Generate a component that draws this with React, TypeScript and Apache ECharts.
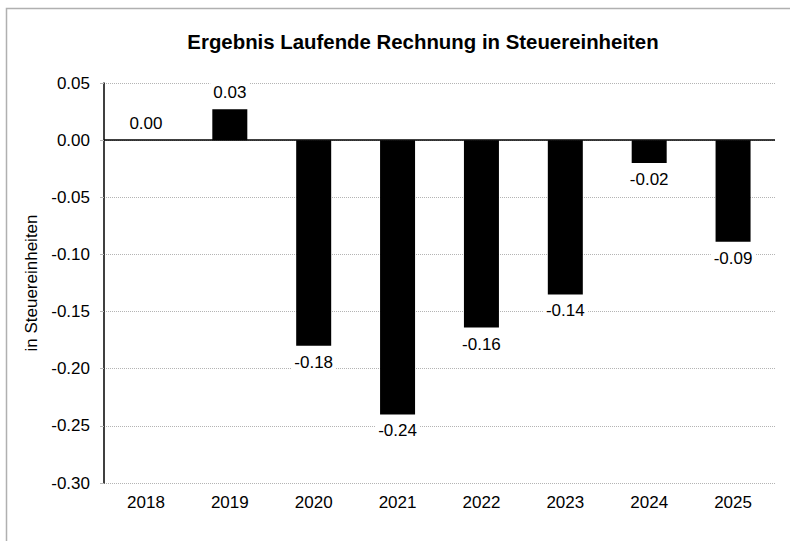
import React, { useEffect, useRef } from "react";
import * as echarts from "echarts";

const categories = ["2018", "2019", "2020", "2021", "2022", "2023", "2024", "2025"];
const values = [0.0, 0.027, -0.18, -0.24, -0.164, -0.135, -0.02, -0.089];
const chartTitle = "Ergebnis Laufende Rechnung in Steuereinheiten";
const yAxisTitle = "in Steuereinheiten";

const FONT = "'Liberation Sans', Arial, sans-serif";

export default function App() {
  const ref = useRef<HTMLDivElement>(null);
  useEffect(() => {
    if (!ref.current) return;
    const chart = echarts.init(ref.current, null, { renderer: "svg" });
    chart.setOption({
      animation: false,
      backgroundColor: "#ffffff",
      textStyle: { fontFamily: FONT },
      graphic: [
        {
          type: "rect",
          shape: { x: 6.5, y: 8.5, width: 1000, height: 1000 },
          style: { fill: "none", stroke: "#b0b0b0", lineWidth: 1.5 },
          silent: true,
          z: -1,
        },
        {
          type: "text",
          x: 423,
          y: 42,
          style: {
            text: chartTitle,
            font: `bold 20.4px ${FONT}`,
            fill: "#000",
            textAlign: "center",
            textVerticalAlign: "middle",
          },
        },
      ],
      grid: { left: 104, right: 15, top: 83, bottom: 58, containLabel: false },
      xAxis: {
        type: "category",
        data: categories,
        axisLine: { show: false },
        axisTick: { show: false },
        axisLabel: { color: "#000", fontSize: 17, fontFamily: FONT, margin: 11 },
        splitLine: { show: false },
      },
      yAxis: {
        type: "value",
        min: -0.3,
        max: 0.05,
        interval: 0.05,
        name: yAxisTitle,
        nameLocation: "middle",
        nameRotate: 90,
        nameGap: 64,
        nameTextStyle: { color: "#000", fontSize: 17, fontFamily: FONT },
        axisLine: { show: true, lineStyle: { color: "#000", width: 1.5 } },
        axisTick: { show: true, length: 4, lineStyle: { color: "#b8b8b8" } },
        axisLabel: {
          color: "#000",
          fontSize: 17,
          fontFamily: FONT,
          margin: 14,
          formatter: (v: number) => v.toFixed(2),
        },
        splitLine: { show: true, lineStyle: { color: "#b4b4b4", type: "dotted", width: 1 } },
      },
      series: [
        {
          type: "bar",
          barWidth: 35,
          itemStyle: { color: "#000" },
          data: values.map((v) => ({
            value: v,
            label: {
              show: true,
              position: v < 0 ? "bottom" : "top",
            },
          })),
          label: {
            show: true,
            color: "#000",
            fontSize: 17,
            fontFamily: FONT,
            distance: 6,
            padding: [2, 3],
            backgroundColor: "#ffffff",
            formatter: (p: any) => Number(p.value).toFixed(2),
          },
          markLine: {
            silent: true,
            symbol: "none",
            label: { show: false },
            lineStyle: { color: "#000", type: "solid", width: 1.5 },
            data: [{ yAxis: 0 }],
          },
        },
      ],
    });
    return () => chart.dispose();
  }, []);
  return (
    <div
      ref={ref}
      style={{ position: "fixed", left: 0, top: 0, width: 790, height: 541 }}
    />
  );
}
